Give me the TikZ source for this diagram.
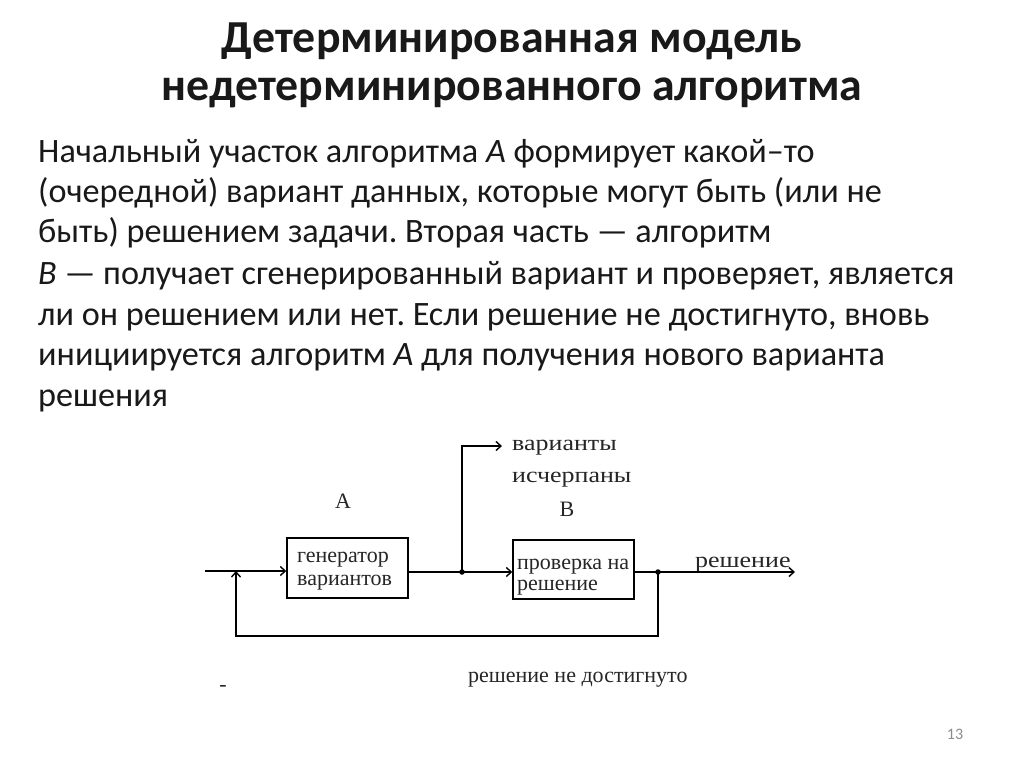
\documentclass[tikz,border=0pt]{standalone}
\usepackage{fontspec}
\setmainfont{Carlito}
\newfontfamily\diagfont{Liberation Serif}
\newfontfamily\diagwide[FakeStretch=1.18]{Liberation Serif}
\usetikzlibrary{arrows.meta}
\definecolor{textdark}{RGB}{25,25,25}
\definecolor{pagegray}{RGB}{140,140,140}
\frenchspacing
\begin{document}
\begin{tikzpicture}[x=1pt,y=-1pt,
  titletext/.style={anchor=base,inner sep=0pt,font=\fontsize{45.8}{48}\selectfont\bfseries,text=textdark},
  bodytext/.style={anchor=base west,inner sep=0pt,font=\fontsize{34.2}{40}\selectfont,text=textdark},
  dtext/.style={inner sep=0pt,font=\diagfont\fontsize{22}{23}\selectfont,text=black!85},
  dwide/.style={inner sep=0pt,font=\diagwide\fontsize{22}{23}\selectfont,text=black!85},
  box/.style={draw,line width=1.4pt,inner sep=0pt},
  conn/.style={line width=1.4pt},
  arr/.style={conn,-{Straight Barb[length=5pt,width=9pt]}},
  dot/.style={fill,circle,inner sep=0pt,minimum size=5.5pt}
]
\useasboundingbox[fill=white] (0,0) rectangle (1024,767);

% title
\node[titletext] (t1) at (512,53) {Детерминированная модель};
\node[titletext] (t2) at (512,101) {недетерминированного алгоритма};

% body
\node[bodytext] (b1) at (38,163) {Начальный участок алгоритма \textit{A} формирует какой–то};
\node[bodytext] (b2) at (38,203) {(очередной) вариант данных, которые могут быть (или не};
\node[bodytext] (b3) at (38,243) {быть) решением задачи. Вторая часть — алгоритм};
\node[bodytext] (b4) at (38,284) {\textit{B} — получает сгенерированный вариант и проверяет, является};
\node[bodytext] (b5) at (38,325) {ли он решением или нет. Если решение не достигнуто, вновь};
\node[bodytext] (b6) at (38,365) {инициируется алгоритм \textit{A} для получения нового варианта};
\node[bodytext] (b7) at (38,406) {решения};

% diagram boxes
\node[box,minimum width=121pt,minimum height=60pt] (A) at (347.5,568) {};
\node[box,minimum width=121pt,minimum height=59pt] (B) at (573.5,569.5) {};
\node[dtext,anchor=base west] (a1) at (297,562) {генератор};
\node[dtext,anchor=base west] (a2) at (297,585) {вариантов};
\node[dtext,anchor=base west] (bb1) at (517,569) {проверка на};
\node[dtext,anchor=base west] (bb2) at (517,590) {решение};

\node[dtext,anchor=base] (la) at (343,508) {A};
\node[dtext,anchor=base] (lb) at (567,516) {B};
\node[dwide,anchor=base west] (v1) at (512,450) {варианты};
\node[dwide,anchor=base west] (v2) at (512,482) {исчерпаны};
\node[dwide,anchor=base west] (sol) at (695,567) {решение};
\node[dtext,anchor=base west] (nsol) at (468,682) {решение не достигнуто};
\node[dtext,anchor=base] (dash) at (223,691) {-};

\node[anchor=base,inner sep=0pt,font=\fontsize{16}{18}\selectfont,text=pagegray] (pg) at (955,739) {13};

% connectors
\coordinate (in) at (205,571);
\coordinate (fb) at (236,571);
\coordinate (j1) at (462,572);
\coordinate (j2) at (658,572);
\coordinate (up) at (462,446);
\coordinate (ex) at (502,446);
\coordinate (out) at (795,572);
\coordinate (bl) at (236,636);
\coordinate (br) at (658,636);

\draw[arr] (in) -- (A.west |- in);
\draw[conn] (A.east |- j1) -- (j1);
\draw[arr] (j1) -- (B.west |- j1);
\draw[arr] (j1) -- (up) -- (ex);
\draw[conn] (B.east |- j2) -- (j2);
\draw[arr] (j2) -- (out);
\draw[arr] (j2) -- (br) -- (bl) -- (fb);
\node[dot] (d1) at (j1) {};
\node[dot] (d2) at (j2) {};
\end{tikzpicture}
\end{document}
